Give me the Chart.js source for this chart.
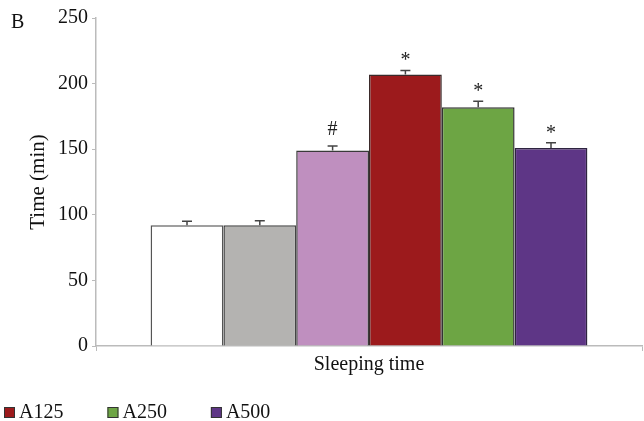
<!DOCTYPE html>
<html>
<head>
<meta charset="utf-8">
<script src="https://cdn.jsdelivr.net/npm/chart.js@4"></script>
<style>
  html, body { margin: 0; padding: 0; background: #fff; }
  #wrap { width: 644px; height: 421px; }
</style>
</head>
<body>
<div id="wrap"><canvas id="grafico" width="644" height="421"></canvas></div>
<script>
// ===============================
// Datos
// ===============================
const categorias = ['Sleeping time'];
const grupos = ['Control', 'Vehicle', 'Reference', 'A125', 'A250', 'A500'];
const valores = [92, 92, 149, 207, 182, 151];
const errores = [3, 3.5, 3.5, 3, 4.5, 4];
const marcas = ['', '', '#', '*', '*', '*'];
const colores = ['#ffffff', '#b4b3b1', '#bf8fbf', '#9c1a1c', '#6da544', '#5e3686'];
const bordes = ['#555555', '#444444', '#3a3a3a', '#3a2a2a', '#333333', '#2e2440'];
const ticksY = [0, 50, 100, 150, 200, 250];
const leyendaVisible = ['A125', 'A250', 'A500'];

const FUENTE = 'Liberation Serif, Times New Roman, serif';

// ===============================
// Plugin: barras de error y marcas
// ===============================
const pluginErrores = {
  id: 'errores',
  afterDatasetsDraw(chart) {
    const ctx = chart.ctx;
    const y = chart.scales.y;
    ctx.save();
    chart.data.datasets.forEach(function (ds, i) {
      const barra = chart.getDatasetMeta(i).data[0];
      const tope = y.getPixelForValue(valores[i] + errores[i]);
      ctx.strokeStyle = '#444';
      ctx.lineWidth = 1.5;
      ctx.beginPath();
      ctx.moveTo(barra.x, barra.y);
      ctx.lineTo(barra.x, tope);
      ctx.moveTo(barra.x - 5, tope);
      ctx.lineTo(barra.x + 5, tope);
      ctx.stroke();
      if (marcas[i]) {
        ctx.fillStyle = '#222';
        ctx.font = '20px ' + FUENTE;
        ctx.textAlign = 'center';
        ctx.textBaseline = 'alphabetic';
        ctx.fillText(marcas[i], barra.x, tope - (marcas[i] === '#' ? 11 : 4));
      }
    });
    ctx.restore();
  }
};

// ===============================
// Plugin: letra del panel y leyenda
// ===============================
const pluginLeyenda = {
  id: 'leyendaPropia',
  afterDraw(chart) {
    const ctx = chart.ctx;
    ctx.save();
    ctx.fillStyle = '#111';
    ctx.font = '20px ' + FUENTE;
    ctx.textAlign = 'left';
    ctx.textBaseline = 'alphabetic';
    ctx.fillText('B', 11, 28);

    let x = 4;
    chart.data.datasets.forEach(function (ds) {
      if (!leyendaVisible.includes(ds.label)) return;
      ctx.fillStyle = ds.backgroundColor;
      ctx.fillRect(x, 407, 11, 11);
      ctx.strokeStyle = '#333';
      ctx.lineWidth = 1;
      ctx.strokeRect(x + 0.5, 407.5, 10, 10);
      ctx.fillStyle = '#111';
      ctx.fillText(ds.label, x + 15, 418);
      x += 15 + ctx.measureText(ds.label).width + 44;
    });
    ctx.restore();
  }
};

// ===============================
// Gráfico
// ===============================
document.addEventListener('DOMContentLoaded', function () {
  const ctx = document.getElementById('grafico').getContext('2d');
  new Chart(ctx, {
    type: 'bar',
    data: {
      labels: categorias,
      datasets: grupos.map(function (g, i) {
        return {
          label: g,
          data: [valores[i]],
          backgroundColor: colores[i],
          borderColor: bordes[i],
          borderWidth: 1.5,
          barPercentage: 1.0,
          categoryPercentage: 0.8
        };
      })
    },
    options: {
      responsive: false,
      animation: false,
      layout: { padding: { left: 0, right: 2, top: 18, bottom: 42 } },
      plugins: {
        legend: { display: false },
        tooltip: { enabled: false }
      },
      scales: {
        x: {
          grid: { drawOnChartArea: false, tickLength: 5, color: '#bbbbbb' },
          border: { color: '#bbbbbb', width: 1.5 },
          ticks: { color: '#111', font: { family: FUENTE, size: 20 }, padding: 2 }
        },
        y: {
          min: 0,
          max: 250,
          afterBuildTicks: function (s) { s.ticks = ticksY.map(v => ({ value: v })); },
          afterFit: function (s) { s.width = 96; },
          grid: { drawOnChartArea: false, tickLength: 4, color: '#bbbbbb' },
          border: { color: '#bbbbbb', width: 1.5 },
          ticks: { color: '#111', font: { family: FUENTE, size: 20 }, padding: 4 },
          title: {
            display: true,
            text: 'Time (min)',
            color: '#111',
            font: { family: FUENTE, size: 21 },
            padding: { top: 26, bottom: 0 }
          }
        }
      }
    },
    plugins: [pluginErrores, pluginLeyenda]
  });
});
</script>
</body>
</html>
